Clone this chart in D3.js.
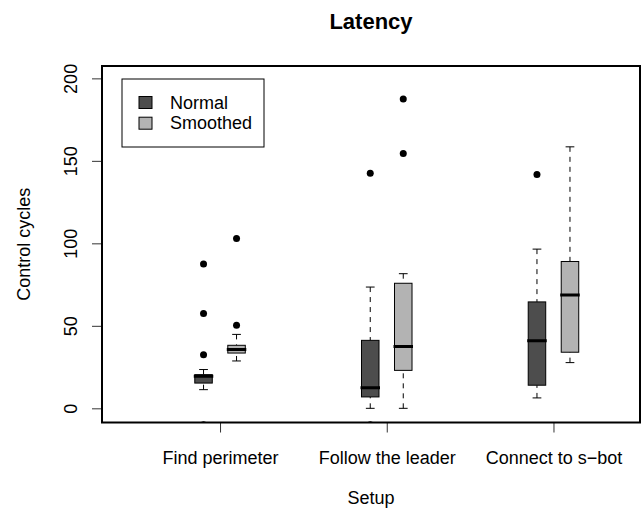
<!DOCTYPE html>
<html>
<head>
  <meta charset="utf-8">
  <script src="https://d3js.org/d3.v7.min.js"></script>
  <style type="text/css">
    body { margin: 0; background: #fff; }
    svg { font-family: "Liberation Sans", Arial, Helvetica, sans-serif; }
  </style>
</head>
<body>
<svg id="chart" width="643" height="514"></svg>
<script>

  // setups on the x axis
  const setups = ['Find perimeter', 'Follow the leader', 'Connect to s\u2212bot'];
  const seriesNames = ['Normal', 'Smoothed'];
  const seriesFill = ['#4d4d4d', '#b3b3b3'];

  // [lower whisker, Q1, median, Q3, upper whisker] per setup
  const normalBoxes = [
    [11.3, 15.3, 19.4, 20.4, 23.5],
    [0, 6.9, 12.5, 41.2, 73.5],
    [6.3, 14, 41, 64.5, 96.5]
  ];
  const smoothedBoxes = [
    [28.7, 33.5, 35.6, 38.2, 44.8],
    [0, 23, 37.5, 75.8, 81.6],
    [27.7, 34, 68.7, 89, 158.5]
  ];
  const normalOutliers = [[87.5, 57.5, 32.5, -10], [142.5, -10], [141.8]];
  const smoothedOutliers = [[50.3, 103], [187.5, 154.5], []];

  const yTicks = [0, 50, 100, 150, 200];

  const chart = d3.select('#chart');
  const plot = { left: 102, right: 640, top: 66, bottom: 422.5 };

  const x = d3.scaleLinear().domain([0.292, 3.519]).range([plot.left, plot.right]);
  const y = d3.scaleLinear().domain([-8.6, 207.5]).range([plot.bottom, plot.top]);

  const offset = 0.099;   // box shift from the setup tick
  const boxW = 0.105;     // box width in x units

  chart.append('defs').append('clipPath').attr('id', 'clip')
    .append('rect')
    .attr('x', plot.left).attr('y', plot.top)
    .attr('width', plot.right - plot.left).attr('height', plot.bottom - plot.top);

  const data = [];
  setups.forEach((s, i) => {
    data.push({ pos: i + 1 - offset, stats: normalBoxes[i], out: normalOutliers[i], fill: seriesFill[0] });
    data.push({ pos: i + 1 + offset, stats: smoothedBoxes[i], out: smoothedOutliers[i], fill: seriesFill[1] });
  });

  const g = chart.append('g').attr('clip-path', 'url(#clip)');
  const boxes = g.selectAll('.box').data(data).enter().append('g').attr('class', 'box');

  const halfW = x(boxW / 2) - x(0);

  // dashed whiskers
  boxes.append('line')
    .attr('x1', d => x(d.pos)).attr('x2', d => x(d.pos))
    .attr('y1', d => y(d.stats[0])).attr('y2', d => y(d.stats[1]))
    .attr('stroke', '#000').attr('stroke-dasharray', '5,5');
  boxes.append('line')
    .attr('x1', d => x(d.pos)).attr('x2', d => x(d.pos))
    .attr('y1', d => y(d.stats[4])).attr('y2', d => y(d.stats[3]))
    .attr('stroke', '#000').attr('stroke-dasharray', '5,5');

  // staples
  [0, 4].forEach(k => {
    boxes.append('line')
      .attr('x1', d => x(d.pos) - halfW / 2).attr('x2', d => x(d.pos) + halfW / 2)
      .attr('y1', d => y(d.stats[k])).attr('y2', d => y(d.stats[k]))
      .attr('stroke', '#000');
  });

  boxes.append('rect')
    .attr('x', d => x(d.pos) - halfW)
    .attr('width', halfW * 2)
    .attr('y', d => y(d.stats[3]))
    .attr('height', d => y(d.stats[1]) - y(d.stats[3]))
    .attr('fill', d => d.fill)
    .attr('stroke', '#000').attr('stroke-width', 1);

  boxes.append('line')
    .attr('x1', d => x(d.pos) - halfW - 1).attr('x2', d => x(d.pos) + halfW + 1)
    .attr('y1', d => y(d.stats[2])).attr('y2', d => y(d.stats[2]))
    .attr('stroke', '#000').attr('stroke-width', 3);

  boxes.selectAll('circle').data(d => d.out.map(v => ({ pos: d.pos, v: v })))
    .enter().append('circle')
    .attr('cx', d => x(d.pos)).attr('cy', d => y(d.v))
    .attr('r', 3.5).attr('fill', '#000');

  // axes
  const yAxis = chart.append('g')
    .attr('transform', `translate(${plot.left} 0)`)
    .call(d3.axisLeft(y).tickValues(yTicks).tickSize(10).tickSizeOuter(0));
  yAxis.select('.domain').remove();
  yAxis.selectAll('line').attr('stroke', '#333');
  yAxis.selectAll('text')
    .attr('x', 0).attr('y', 0).attr('dy', 0)
    .attr('text-anchor', 'middle')
    .attr('transform', 'translate(-25,0) rotate(-90)')
    .attr('font-size', 18).attr('font-family', null).attr('fill', '#000');

  const xAxis = chart.append('g')
    .attr('transform', `translate(0 ${plot.bottom})`)
    .call(d3.axisBottom(x).tickValues([1, 2, 3]).tickFormat(d => setups[d - 1]).tickSize(10).tickSizeOuter(0));
  xAxis.select('.domain').remove();
  xAxis.selectAll('line').attr('stroke', '#333');
  xAxis.selectAll('text')
    .attr('y', 41).attr('dy', 0)
    .attr('font-size', 18).attr('font-family', null).attr('fill', '#000');

  // plot frame
  chart.append('rect')
    .attr('x', plot.left).attr('y', plot.top)
    .attr('width', plot.right - plot.left).attr('height', plot.bottom - plot.top)
    .attr('fill', 'none').attr('stroke', '#000').attr('stroke-width', 2);

  // titles
  chart.append('text')
    .attr('x', (plot.left + plot.right) / 2).attr('y', 29)
    .attr('text-anchor', 'middle').attr('font-size', 22).attr('font-weight', 'bold')
    .text('Latency');
  chart.append('text')
    .attr('x', (plot.left + plot.right) / 2).attr('y', 504)
    .attr('text-anchor', 'middle').attr('font-size', 18)
    .text('Setup');
  chart.append('text')
    .attr('transform', `translate(30 ${(plot.top + plot.bottom) / 2}) rotate(-90)`)
    .attr('text-anchor', 'middle').attr('font-size', 18)
    .text('Control cycles');

  // legend
  const legend = chart.append('g');
  legend.append('rect')
    .attr('x', 122).attr('y', 79).attr('width', 142).attr('height', 68)
    .attr('fill', '#fff').attr('stroke', '#000');
  seriesNames.forEach((name, i) => {
    legend.append('rect')
      .attr('x', 139).attr('y', 96.5 + i * 20.7).attr('width', 13).attr('height', 12)
      .attr('fill', seriesFill[i]).attr('stroke', '#000');
    legend.append('text')
      .attr('x', 170).attr('y', 108.5 + i * 20.7)
      .attr('font-size', 18)
      .text(name);
  });

</script>
</body>
</html>
